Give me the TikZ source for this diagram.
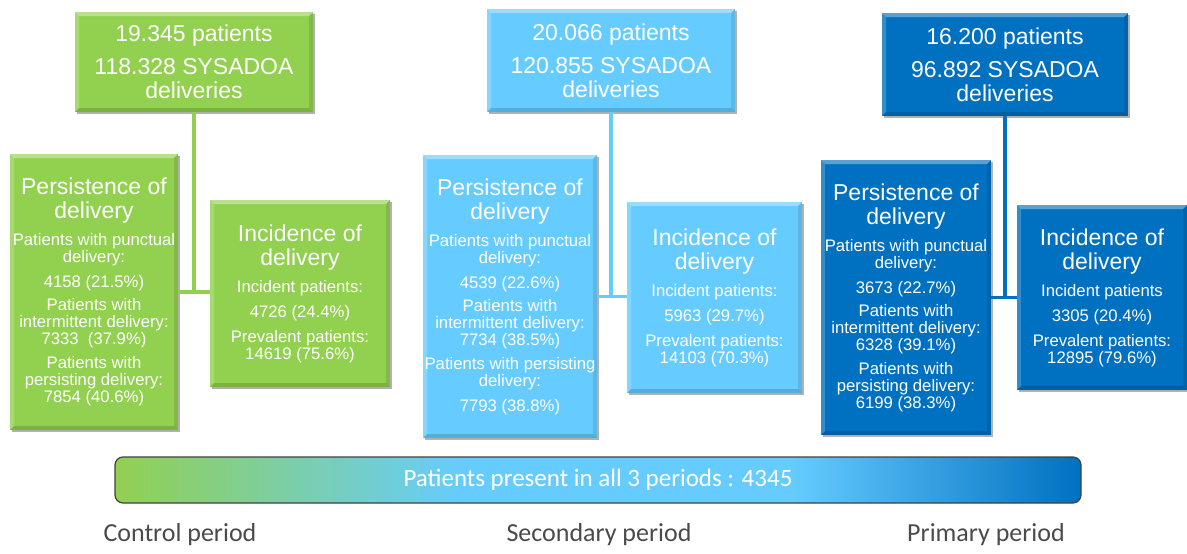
\documentclass[tikz,border=0pt]{standalone}
\usepackage{fontspec}
\setmainfont{Liberation Sans}
\newfontfamily\calibfont{Carlito}
\usetikzlibrary{shadows}

\definecolor{ctrlgreen}{HTML}{92D050}
\definecolor{seclight}{HTML}{66CCFF}
\definecolor{primdark}{HTML}{0070C0}
\definecolor{labelgray}{HTML}{4A4A4A}

\pgfdeclarehorizontalshading{barshade}{100bp}{color(0bp)=(ctrlgreen); color(25bp)=(ctrlgreen); color(43bp)=(seclight); color(60bp)=(seclight); color(75bp)=(primdark); color(100bp)=(primdark)}

\newcommand{\headsz}{\fontsize{23}{24}\selectfont\spaceskip=\fontdimen2\font\xspaceskip=\fontdimen2\font}
\newcommand{\bodysz}{\fontsize{16.7}{17}\selectfont\spaceskip=\fontdimen2\font\xspaceskip=\fontdimen2\font}

\tikzset{
  panel/.style={fill=#1, text=white, inner sep=0pt, align=center,
    drop shadow={shadow xshift=2pt, shadow yshift=-2pt, opacity=0.3, fill=black},
    path picture={
      \path (path picture bounding box.north west) coordinate (pnw)
            (path picture bounding box.north east) coordinate (pne)
            (path picture bounding box.south west) coordinate (psw)
            (path picture bounding box.south east) coordinate (pse);
      \fill[white, opacity=0.35] (pnw) -- (pne) -- ([shift={(-4pt,-4pt)}]pne) -- ([shift={(4pt,-4pt)}]pnw) -- cycle;
      \fill[white, opacity=0.2] (pnw) -- (psw) -- ([shift={(4pt,4pt)}]psw) -- ([shift={(4pt,-4pt)}]pnw) -- cycle;
      \fill[black, opacity=0.15] (psw) -- (pse) -- ([shift={(-4pt,4pt)}]pse) -- ([shift={(4pt,4pt)}]psw) -- cycle;
      \fill[black, opacity=0.1] (pne) -- (pse) -- ([shift={(-4pt,4pt)}]pse) -- ([shift={(-4pt,-4pt)}]pne) -- cycle;
    }},
  link/.style={draw=#1, line width=3.5pt},
  periodlabel/.style={text=labelgray, font=\calibfont\fontsize{26}{28}\selectfont}
}

\begin{document}
\begin{tikzpicture}[x=1pt, y=-1pt]
\useasboundingbox (0,0) rectangle (1187,554);

\node[panel=ctrlgreen, minimum width=238pt, minimum height=100pt, text width=238pt] (ctrlTop) at (194,62)
  {\headsz 19.345 patients\\[9pt]118.328 SYSADOA\\deliveries\par};
\node[panel=ctrlgreen, minimum width=168pt, minimum height=276pt, text width=168pt] (ctrlPers) at (94,292)
  {{\headsz Persistence of\\delivery\par}\vspace{10pt}\bodysz Patients with punctual\\delivery:\\[8pt]4158 (21.5\%)\\[6pt]Patients with\\intermittent delivery:\\7333\ \ (37.9\%)\\[7pt]Patients with\\persisting delivery:\\7854 (40.6\%)\par};
\node[panel=ctrlgreen, minimum width=180pt, minimum height=187pt, text width=180pt] (ctrlInc) at (300,293.5)
  {{\headsz Incidence of\\delivery\par}\vspace{10pt}\bodysz Incident patients:\\[8pt]4726 (24.4\%)\\[8pt]Prevalent patients:\\14619 (75.6\%)\par};
\draw[link=ctrlgreen] (ctrlTop.south) -- (ctrlTop.south |- ctrlPers.east);
\draw[link=ctrlgreen] (ctrlPers.east) -- (ctrlPers.east -| ctrlInc.west);

\node[panel=seclight, minimum width=248pt, minimum height=103pt, text width=248pt] (secTop) at (611,60.5)
  {\headsz 20.066 patients\\[9pt]120.855 SYSADOA\\deliveries\par};
\node[panel=seclight, minimum width=174pt, minimum height=283pt, text width=174pt] (secPers) at (510,296.5)
  {{\headsz Persistence of\\delivery\par}\vspace{10pt}\bodysz Patients with punctual\\delivery:\\[8pt]4539 (22.6\%)\\[6pt]Patients with\\intermittent delivery:\\7734 (38.5\%)\\[7pt]Patients with persisting\\delivery:\\[8pt]7793 (38.8\%)\par};
\node[panel=seclight, minimum width=175pt, minimum height=191pt, text width=175pt] (secInc) at (714.5,297.5)
  {{\headsz Incidence of\\delivery\par}\vspace{10pt}\bodysz Incident patients:\\[8pt]5963 (29.7\%)\\[8pt]Prevalent patients:\\14103 (70.3\%)\par};
\draw[link=seclight] (secTop.south) -- (secTop.south |- secPers.east);
\draw[link=seclight] (secPers.east) -- (secPers.east -| secInc.west);

\node[panel=primdark, minimum width=246pt, minimum height=103pt, text width=246pt] (primTop) at (1005,64.5)
  {\headsz 16.200 patients\\[9pt]96.892 SYSADOA\\deliveries\par};
\node[panel=primdark, minimum width=170pt, minimum height=275pt, text width=170pt] (primPers) at (906,297.5)
  {{\headsz Persistence of\\delivery\par}\vspace{10pt}\bodysz Patients with punctual\\delivery:\\[8pt]3673 (22.7\%)\\[6pt]Patients with\\intermittent delivery:\\6328 (39.1\%)\\[7pt]Patients with\\persisting delivery:\\6199 (38.3\%)\par};
\node[panel=primdark, minimum width=170pt, minimum height=185pt, text width=170pt] (primInc) at (1102,297.5)
  {{\headsz Incidence of\\delivery\par}\vspace{10pt}\bodysz Incident patients\\[8pt]3305 (20.4\%)\\[8pt]Prevalent patients:\\12895 (79.6\%)\par};
\draw[link=primdark] (primTop.south) -- (primTop.south |- primPers.east);
\draw[link=primdark] (primPers.east) -- (primPers.east -| primInc.west);

\node[draw=black!75, line width=1.2pt, rounded corners=8pt, minimum width=966pt, minimum height=46pt,
  shading=barshade, text=white,
  font=\calibfont\fontsize{25}{27}\selectfont] (allBar) at (598,480) {Patients present in all 3 periods : 4345};

\node[periodlabel] (ctrlLabel) at (180,535) {Control period};
\node[periodlabel] (secLabel) at (599,535) {Secondary period};
\node[periodlabel] (primLabel) at (986,535) {Primary period};
\end{tikzpicture}
\end{document}
